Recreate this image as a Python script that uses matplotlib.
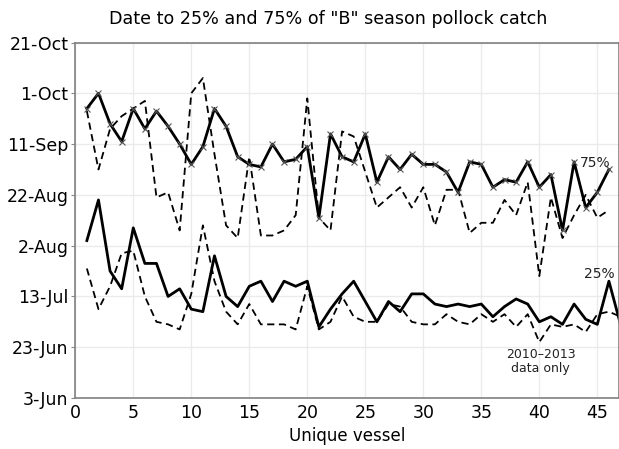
import matplotlib
matplotlib.use("Agg")
import matplotlib.pyplot as plt
import numpy as np

# day-of-year values (non-leap year), vessel index starts at 1
vessel_75 = np.arange(1, 47)
vessel_25 = np.arange(1, 48)

p75_all = [268, 274, 262, 255, 268, 260, 267, 261, 254, 246, 253, 268, 261, 249, 246, 245,
           254, 247, 248, 253, 225, 258, 249, 247, 258, 239, 249, 244, 250, 246, 246, 243,
           235, 247, 246, 237, 240, 239, 247, 237, 242, 220, 247, 229, 235, 244]
p75_recent = [267, 244, 260, 265, 268, 271, 233, 235, 220, 274, 280, 250, 222, 217, 249, 218,
              218, 220, 226, 272, 225, 220, 259, 257, 243, 229, 233, 237, 229, 237, 222, 236,
              236, 219, 223, 223, 232, 226, 239, 202, 233, 217, 226, 234, 225, 228]
p25_all = [216, 232, 204, 197, 221, 207, 207, 194, 197, 189, 188, 210, 194, 190, 198, 200,
           192, 200, 198, 200, 182, 189, 195, 200, 192, 184, 192, 188, 195, 195, 191, 190,
           191, 190, 191, 186, 190, 193, 191, 184, 186, 183, 191, 185, 183, 200, 183]
p25_recent = [205, 189, 198, 211, 212, 194, 184, 183, 181, 195, 222, 200, 188, 183, 191, 183,
              183, 183, 181, 198, 181, 184, 194, 186, 184, 184, 191, 190, 184, 183, 183, 187,
              184, 183, 187, 184, 187, 182, 187, 176, 183, 182, 183, 180, 187, 188, 186]

ytick_days = [154, 174, 194, 214, 234, 254, 274, 294]
ytick_labels = ["3-Jun", "23-Jun", "13-Jul", "2-Aug", "22-Aug", "11-Sep", "1-Oct", "21-Oct"]
xtick_vals = [0, 5, 10, 15, 20, 25, 30, 35, 40, 45]

plt.rcParams['font.family'] = ['DejaVu Sans']

fig = plt.figure(figsize=(6.19, 4.49), dpi=100)
ax = fig.add_axes([0.1216, 0.1136, 0.8784, 0.7917])

ax.plot(vessel_75, p75_recent, color="black", lw=1.3, ls=(0, (4, 2.5)))
ax.plot(vessel_25, p25_recent, color="black", lw=1.3, ls=(0, (4, 2.5)))
ax.plot(vessel_75, p75_all, color="black", lw=2.0, marker="x", ms=5, mew=0.8,
        mec="#555555")
ax.plot(vessel_25, p25_all, color="black", lw=2.0)

ax.text(44.8, 246.5, "75%", fontsize=10, ha="center", va="center", color="#222222")
ax.text(45.2, 203, "25%", fontsize=10, ha="center", va="center", color="#222222")
ax.text(40.1, 168.5, "2010\u20132013\ndata only", fontsize=9, ha="center", va="center",
        color="#222222", linespacing=1.1)

ax.set_xlim(0, 46.87)
ax.set_ylim(154, 294)
ax.set_xticks(xtick_vals)
ax.set_yticks(ytick_days)
ax.set_yticklabels(ytick_labels)
ax.tick_params(axis="both", labelsize=12.5, length=3, color="#888888", pad=2)
ax.tick_params(axis="x", length=0, pad=4)
ax.grid(True, color="#ebebeb", lw=1.0)
ax.set_axisbelow(True)
for s in ax.spines.values():
    s.set_color("#808080")
    s.set_linewidth(1.2)

ax.set_title('Date to 25% and 75% of "B" season pollock catch', fontsize=12.6,
             x=0.465, pad=13)
ax.set_xlabel("Unique vessel", fontsize=12, labelpad=4)

fig.savefig("out.png", dpi=100)
